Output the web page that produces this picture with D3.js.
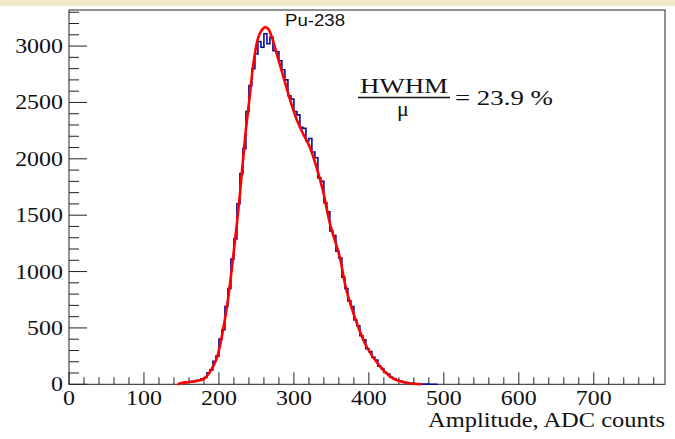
<!DOCTYPE html>
<html>
<head>
<meta charset="utf-8">
<script src="https://cdn.jsdelivr.net/npm/d3@7"></script>
<style>
  body { margin: 0; background: #fff; }
  svg { display: block; }
</style>
</head>
<body>
<div id="chart"></div>
<script>
// histogram: bin width 4 ADC, first bin starts at 148
const binStart = 148;
const binWidth = 4;
const counts = [
  10, 14, 20, 18, 25, 33, 35, 48, 60, 102,
  128, 205, 250, 402, 485, 690, 850, 1110, 1290, 1600,
  1870, 2090, 2420, 2650, 2800, 2930, 3040, 2990, 3110, 3020,
  3080, 2960, 2950, 2870, 2790, 2700, 2560, 2530, 2420, 2390,
  2280, 2270, 2160, 2180, 2060, 2010, 1830, 1800, 1610, 1530,
  1360, 1320, 1180, 1120, 950, 850, 740, 690, 570, 520,
  430, 395, 315, 290, 240, 215, 160, 140, 105, 92,
  62, 50, 36, 32, 20, 16, 11, 8, 5, 4,
  3, 2, 2, 1, 1, 1
];

// fit curve, points
const fitX = [145, 150, 160, 170, 180, 188, 197, 206, 212, 219, 224, 228, 235, 241, 246, 252, 257, 262, 266, 271,
  277, 286, 295, 304, 312, 321, 330, 339, 348, 361, 370, 384, 397, 415, 432, 450, 460, 470];
const fitY = [0, 12, 20, 30, 48, 110, 230, 500, 750, 1130, 1430, 1690, 2195, 2550, 2846, 3067, 3140, 3168, 3150, 3070,
  2934, 2727, 2520, 2343, 2225, 2106, 1929, 1710, 1427, 1131, 836, 541, 333, 156, 53, 14, 5, 0];

const xMajor = [0, 100, 200, 300, 400, 500, 600, 700];
const yMajor = [0, 500, 1000, 1500, 2000, 2500, 3000];
const titleText = "Pu-238";
const xTitle = "Amplitude, ADC counts";

const W = 675, H = 439;
const frame = { left: 69, right: 665, top: 10, bottom: 384.3 };
const SX = 1.14; // glyphs in the picture are a bit wide

const svg = d3.select('#chart').append('svg')
  .attr('width', W).attr('height', H);

// beige band on top
svg.append('rect')
  .attr('x', 0).attr('y', 0).attr('width', W).attr('height', 6)
  .attr('fill', '#f0e9c6');

const x = d3.scaleLinear().domain([0, 795]).range([frame.left, frame.right]);
const y = d3.scaleLinear().domain([0, 3320]).range([frame.bottom, frame.top]);

const serif = '"Liberation Serif", "DejaVu Serif", serif';

// frame
svg.append('rect')
  .attr('x', frame.left).attr('y', frame.top)
  .attr('width', frame.right - frame.left).attr('height', frame.bottom - frame.top)
  .attr('fill', 'none').attr('stroke', '#222').attr('stroke-width', 1);

// x ticks (inside, upwards)
const xMinor = d3.range(0, 795, 20);
svg.append('g').selectAll('line')
  .data(xMinor)
  .join('line')
  .attr('x1', d => x(d)).attr('x2', d => x(d))
  .attr('y1', frame.bottom)
  .attr('y2', d => frame.bottom - (d % 100 === 0 ? 12 : 7))
  .attr('stroke', '#222').attr('stroke-width', 1);

// y ticks (inside, to the right)
const yMinor = d3.range(0, 3320, 100);
svg.append('g').selectAll('line')
  .data(yMinor)
  .join('line')
  .attr('x1', frame.left)
  .attr('x2', d => frame.left + (d % 500 === 0 ? 18 : 10))
  .attr('y1', d => y(d)).attr('y2', d => y(d))
  .attr('stroke', '#222').attr('stroke-width', 1);

// tick labels
svg.append('g').selectAll('text')
  .data(xMajor)
  .join('text')
  .attr('transform', d => `translate(${x(d)},405) scale(${SX},1)`)
  .attr('text-anchor', 'middle')
  .attr('font-family', serif).attr('font-size', 21)
  .attr('fill', '#111')
  .text(d => d);

svg.append('g').selectAll('text')
  .data(yMajor)
  .join('text')
  .attr('transform', d => `translate(63,${y(d) + 7}) scale(${SX},1)`)
  .attr('text-anchor', 'end')
  .attr('font-family', serif).attr('font-size', 21)
  .attr('fill', '#111')
  .text(d => d);

// axis title
svg.append('text')
  .attr('x', 428).attr('y', 427)
  .attr('textLength', 237).attr('lengthAdjust', 'spacingAndGlyphs')
  .attr('font-family', serif).attr('font-size', 20)
  .attr('fill', '#111')
  .text(xTitle);

// histogram
const histPts = counts.map((c, i) => [binStart + i * binWidth, c]);
histPts.push([binStart + counts.length * binWidth, counts[counts.length - 1]]);
const stepLine = d3.line()
  .x(d => x(d[0])).y(d => y(d[1]))
  .curve(d3.curveStepAfter);
svg.append('path')
  .datum(histPts)
  .attr('d', stepLine)
  .attr('fill', 'none')
  .attr('stroke', '#0a0a9c')
  .attr('stroke-width', 1.6);

// fit
const fitPts = fitX.map((v, i) => [v, fitY[i]]);
const fitLine = d3.line()
  .x(d => x(d[0])).y(d => y(d[1]))
  .curve(d3.curveCatmullRom);
svg.append('path')
  .datum(fitPts)
  .attr('d', fitLine)
  .attr('fill', 'none')
  .attr('stroke', '#ff0000')
  .attr('stroke-width', 2.6)
  .attr('stroke-linejoin', 'round');

// title
svg.append('text')
  .attr('x', 285).attr('y', 26)
  .attr('textLength', 60).attr('lengthAdjust', 'spacingAndGlyphs')
  .attr('font-family', '"Liberation Sans", Arial, sans-serif').attr('font-size', 17)
  .attr('fill', '#111')
  .text(titleText);

// HWHM / mu annotation
const ann = svg.append('g').attr('font-family', serif).attr('fill', '#111');
ann.append('text')
  .attr('x', 360).attr('y', 93)
  .attr('textLength', 88).attr('lengthAdjust', 'spacingAndGlyphs')
  .attr('font-size', 22)
  .text('HWHM');
ann.append('line')
  .attr('x1', 358).attr('x2', 450).attr('y1', 97.5).attr('y2', 97.5)
  .attr('stroke', '#111').attr('stroke-width', 1.4);
ann.append('text')
  .attr('x', 403).attr('y', 116)
  .attr('text-anchor', 'middle')
  .attr('font-size', 22)
  .text('μ');
ann.append('text')
  .attr('x', 455).attr('y', 105)
  .attr('textLength', 98).attr('lengthAdjust', 'spacingAndGlyphs')
  .attr('font-size', 22)
  .text('= 23.9 %');
</script>
</body>
</html>
